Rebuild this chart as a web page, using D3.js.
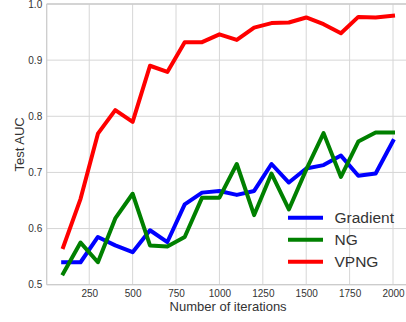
<!DOCTYPE html>
<html>
<head>
<meta charset="utf-8">
<script src="https://cdn.jsdelivr.net/npm/d3@7"></script>
<style>
  html, body { margin: 0; padding: 0; background: #fff; }
  svg { display: block; font-family: "Liberation Sans", Arial, sans-serif; }
</style>
</head>
<body>
<main></main>
<script>
const iterations = [100, 200, 300, 400, 500, 600, 700, 800, 900, 1000,
                    1100, 1200, 1300, 1400, 1500, 1600, 1700, 1800, 1900, 2000];
const gradient = [0.540, 0.540, 0.585, 0.570, 0.558, 0.597, 0.576, 0.643, 0.664, 0.667,
                  0.660, 0.667, 0.715, 0.682, 0.707, 0.713, 0.730, 0.694, 0.698, 0.756];
const ng = [0.520, 0.575, 0.540, 0.618, 0.662, 0.570, 0.568, 0.585, 0.655, 0.655,
            0.715, 0.624, 0.698, 0.634, 0.705, 0.770, 0.692, 0.755, 0.771, 0.771];
const vpng = [0.567, 0.653, 0.769, 0.811, 0.790, 0.890, 0.879, 0.932, 0.932, 0.946,
              0.936, 0.958, 0.966, 0.967, 0.976, 0.964, 0.948, 0.977, 0.976, 0.979];
const seriesNames = ["Gradient", "NG", "VPNG"];
const xTicks = [250, 500, 750, 1000, 1250, 1500, 1750, 2000];
const yTicks = [0.5, 0.6, 0.7, 0.8, 0.9, 1.0];

const w = 406, h = 322;
const colors = {Gradient: "#0000ff", NG: "#008000", VPNG: "#ff0000"};
const seriesData = {Gradient: gradient, NG: ng, VPNG: vpng};

const svg = d3.select("main").append("svg")
  .attr("width", w)
  .attr("height", h);

const xScale = d3.scaleLinear().domain([5, 2095]).range([46.7, 409.5]);
const yScale = d3.scaleLinear().domain([0.5, 1.0]).range([284.7, 4]);

// grid
svg.append("g").selectAll("line")
  .data(xTicks).enter().append("line")
  .attr("x1", d => xScale(d)).attr("x2", d => xScale(d))
  .attr("y1", yScale(0.5)).attr("y2", yScale(1.0))
  .attr("stroke", "#d6d6d6").attr("stroke-width", 1);
svg.append("g").selectAll("line")
  .data(yTicks).enter().append("line")
  .attr("x1", xScale(5)).attr("x2", xScale(2095))
  .attr("y1", d => yScale(d)).attr("y2", d => yScale(d))
  .attr("stroke", "#d6d6d6").attr("stroke-width", 1);

// series lines
const line = d3.line()
  .x((d, i) => xScale(iterations[i]))
  .y(d => yScale(d));

seriesNames.forEach(name => {
  svg.append("path")
    .datum(seriesData[name])
    .attr("fill", "none")
    .attr("stroke", colors[name])
    .attr("stroke-width", 4)
    .attr("stroke-linejoin", "round")
    .attr("stroke-linecap", "square")
    .attr("d", line);
});

// spines
svg.append("line")
  .attr("x1", xScale(5)).attr("x2", xScale(5))
  .attr("y1", yScale(0.5)).attr("y2", yScale(1.0))
  .attr("stroke", "#cccccc").attr("stroke-width", 1.3);
svg.append("line")
  .attr("x1", xScale(5)).attr("x2", xScale(2095))
  .attr("y1", yScale(0.5)).attr("y2", yScale(0.5))
  .attr("stroke", "#cccccc").attr("stroke-width", 1.3);
svg.append("line")
  .attr("x1", xScale(5)).attr("x2", xScale(2095))
  .attr("y1", yScale(1.0)).attr("y2", yScale(1.0))
  .attr("stroke", "#cccccc").attr("stroke-width", 1.3);

// X Axis
const xAxis = d3.axisBottom(xScale).tickValues(xTicks).tickSize(0).tickPadding(5)
  .tickFormat(d3.format("d"));
const gx = svg.append("g")
  .attr("transform", "translate(0," + yScale(0.5) + ")")
  .call(xAxis);
gx.select(".domain").remove();
gx.selectAll("text").attr("font-size", 10).attr("fill", "#333")
  .attr("font-family", "Liberation Sans, Arial, sans-serif");
svg.append("text")
  .attr("x", (xScale(5) + xScale(2095)) / 2)
  .attr("y", 310.5)
  .attr("text-anchor", "middle")
  .attr("font-size", 13)
  .attr("fill", "#333")
  .text("Number of iterations");

// Y Axis
const yAxis = d3.axisLeft(yScale).tickValues(yTicks).tickSize(0).tickPadding(4.5)
  .tickFormat(d3.format(".1f"));
const gy = svg.append("g")
  .attr("transform", "translate(" + xScale(5) + ",0)")
  .call(yAxis);
gy.select(".domain").remove();
gy.selectAll("text").attr("font-size", 10).attr("fill", "#333")
  .attr("font-family", "Liberation Sans, Arial, sans-serif");
svg.append("text")
  .attr("transform", "translate(24," + ((yScale(0.5) + yScale(1.0)) / 2) + ") rotate(-90)")
  .attr("text-anchor", "middle")
  .attr("font-size", 13)
  .attr("fill", "#333")
  .text("Test AUC");

// Legend
const legend = svg.append("g");
seriesNames.forEach((name, i) => {
  const cy = 217.7 + i * 22;
  legend.append("line")
    .attr("x1", 288).attr("x2", 323)
    .attr("y1", cy).attr("y2", cy)
    .attr("stroke", colors[name]).attr("stroke-width", 4);
  legend.append("text")
    .attr("x", 334.5)
    .attr("y", cy + 5.6)
    .attr("font-size", 15.5)
    .attr("fill", "#333")
    .text(name);
});
</script>
</body>
</html>
